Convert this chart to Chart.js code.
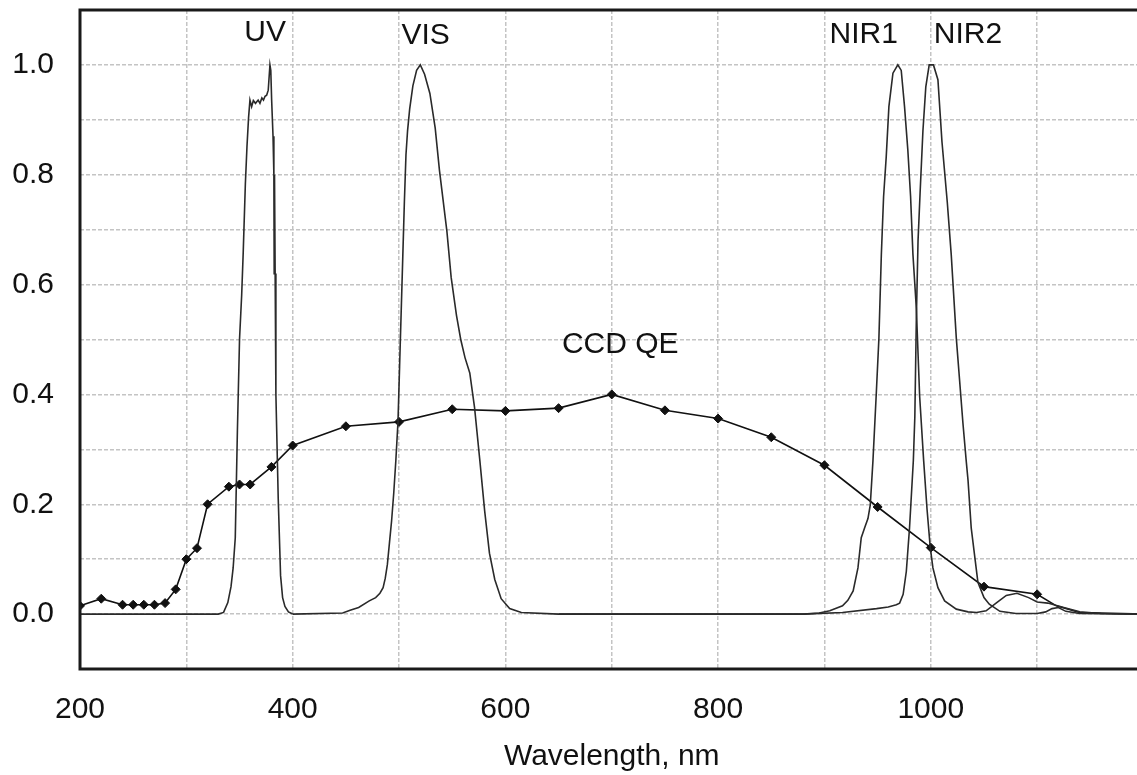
<!DOCTYPE html>
<html>
<head>
<meta charset="utf-8">
<script src="https://cdn.jsdelivr.net/npm/chart.js@4"></script>
<style>
  html, body { margin: 0; padding: 0; background: #fff; overflow: hidden; }
  #wrap { position: absolute; left: 0; top: 0; }
</style>
</head>
<body>
<div id="wrap"><canvas id="chart" width="1149" height="775"></canvas></div>
<script>
// CCD quantum efficiency (points with markers)
const qeWl = [200, 220, 240, 250, 260, 270, 280, 290, 300, 310, 320, 340, 350, 360, 380, 400, 450, 500, 550, 600,
              650, 700, 750, 800, 850, 900, 950, 1000, 1050, 1100];
const qeVal = [0.015, 0.028, 0.017, 0.017, 0.017, 0.017, 0.02, 0.045, 0.1, 0.12, 0.2, 0.232, 0.236, 0.236, 0.268, 0.307, 0.342, 0.35, 0.373, 0.37,
               0.375, 0.4, 0.371, 0.356, 0.322, 0.271, 0.195, 0.121, 0.05, 0.036];
// tail of the QE curve, no markers
const qeTailWl = [1118, 1140, 1200];
const qeTailVal = [0.015, 0.003, 0];

// filter transmission curves
const uvWl = [200, 330, 335, 339, 342, 344, 346, 348, 350, 352, 353.5, 355.5, 357, 358.5, 359.8, 361.4, 363, 365, 367.5, 369.2,
              371, 372.5, 374, 375.5, 377, 378.6, 379.4, 380.2, 381.5, 382.3, 382.6, 382.9, 383.5, 384.2, 386.4, 388.6, 390.5, 392.7, 396, 400];
const uvVal = [0, 0, 0.003, 0.021, 0.05, 0.084, 0.139, 0.334, 0.5, 0.58, 0.66, 0.784, 0.851, 0.904, 0.936, 0.924, 0.935, 0.93, 0.936, 0.93,
               0.94, 0.936, 0.943, 0.945, 0.954, 1.0, 0.99, 0.936, 0.87, 0.8, 0.62, 0.8, 0.62, 0.4, 0.21, 0.07, 0.03, 0.014, 0.004, 0];

const visWl = [400, 447, 454, 462, 472, 478, 482, 485, 487, 489, 491, 493, 495, 497, 499, 500.5, 502, 503.5, 505, 506.5,
               508, 510, 513, 516.5, 520, 524, 529, 534, 538, 545, 549, 554, 558, 562, 566.5, 571, 576, 580.5, 585, 590,
               596, 604, 615, 650, 700];
const visVal = [0, 0.002, 0.007, 0.012, 0.024, 0.03, 0.038, 0.048, 0.065, 0.09, 0.13, 0.17, 0.22, 0.28, 0.35, 0.45, 0.55, 0.65, 0.75, 0.836,
                0.88, 0.92, 0.962, 0.99, 1.0, 0.983, 0.948, 0.885, 0.808, 0.697, 0.613, 0.544, 0.5, 0.467, 0.439, 0.376, 0.279, 0.188, 0.111, 0.063,
                0.028, 0.01, 0.003, 0, 0];

const nir1Wl = [650, 880, 895, 905, 917, 922, 927, 931.5, 934.6, 937.8, 940.9, 943.1, 945.6, 948.8, 951.2, 953.5, 955.6, 958.1, 960.6, 964.4,
                969, 972.2, 975.3, 978.4, 981, 983.2, 986.4, 989.5, 993.3, 996.5, 999.5, 1002, 1006.7, 1013, 1024, 1035, 1043, 1052, 1062, 1071,
                1081, 1092, 1100, 1110, 1125, 1140, 1160, 1200];
const nir1Val = [0, 0, 0.002, 0.006, 0.015, 0.025, 0.042, 0.084, 0.139, 0.157, 0.174, 0.199, 0.279, 0.404, 0.502, 0.655, 0.76, 0.833, 0.924, 0.985,
                 1.0, 0.99, 0.924, 0.845, 0.76, 0.655, 0.557, 0.397, 0.279, 0.19, 0.121, 0.084, 0.048, 0.024, 0.009, 0.004, 0.003, 0.006, 0.021, 0.034,
                 0.038, 0.03, 0.022, 0.02, 0.012, 0.004, 0.001, 0];

const nir2Wl = [700, 880, 917, 949, 960, 967.6, 970.7, 974, 977, 980, 983.6, 985, 986.4, 988, 990, 992.6, 995.3, 998.5, 1002.5, 1006.7,
                1010.5, 1015.5, 1019.2, 1024, 1030.2, 1033.3, 1035, 1038, 1044.3, 1050, 1055, 1065, 1080, 1100, 1108, 1114, 1120, 1127, 1140, 1200];
const nir2Val = [0, 0, 0.003, 0.01, 0.013, 0.017, 0.02, 0.036, 0.078, 0.157, 0.28, 0.36, 0.537, 0.68, 0.77, 0.88, 0.96, 1.0, 1.0, 0.973,
                 0.86, 0.75, 0.655, 0.502, 0.348, 0.279, 0.244, 0.157, 0.058, 0.03, 0.018, 0.005, 0.001, 0.001, 0.004, 0.01, 0.012, 0.005, 0.001, 0];

// curve labels placed in data units
const labelText = ["UV", "VIS", "NIR1", "NIR2", "CCD QE"];
const labelWl = [374, 525, 937, 1035, 708];
const labelVal = [1.058, 1.053, 1.055, 1.055, 0.491];

const FONT = '"Liberation Sans", Arial, sans-serif';

function pts(xs, ys) {
    return xs.map((x, i) => ({ x: x, y: ys[i] }));
}

const filterStyle = {
    showLine: true,
    borderColor: "#2a2a2a",
    borderWidth: 1.6,
    pointRadius: 0,
    tension: 0,
    fill: false
};

const framePlugin = {
    id: "frame",
    afterDraw(chart) {
        const { ctx, chartArea: a, scales } = chart;
        ctx.save();
        // plot border
        ctx.strokeStyle = "#1a1a1a";
        ctx.lineWidth = 3;
        ctx.beginPath();
        ctx.moveTo(chart.width, a.top);
        ctx.lineTo(a.left, a.top);
        ctx.lineTo(a.left, a.bottom);
        ctx.lineTo(chart.width, a.bottom);
        ctx.stroke();
        // curve labels
        ctx.fillStyle = "#111";
        ctx.font = "30px " + FONT;
        ctx.textAlign = "center";
        ctx.textBaseline = "middle";
        labelText.forEach((t, i) => {
            ctx.fillText(t, scales.x.getPixelForValue(labelWl[i]), scales.y.getPixelForValue(labelVal[i]));
        });
        ctx.restore();
    }
};

const qePoints = pts(qeWl, qeVal).concat(pts(qeTailWl, qeTailVal));

new Chart(document.getElementById("chart"), {
    type: "scatter",
    data: {
        datasets: [
            Object.assign({ label: "UV", data: pts(uvWl, uvVal) }, filterStyle),
            Object.assign({ label: "VIS", data: pts(visWl, visVal) }, filterStyle),
            Object.assign({ label: "NIR1", data: pts(nir1Wl, nir1Val) }, filterStyle),
            Object.assign({ label: "NIR2", data: pts(nir2Wl, nir2Val) }, filterStyle),
            {
                label: "CCD QE",
                data: qePoints,
                showLine: true,
                borderColor: "#111",
                borderWidth: 1.6,
                tension: 0,
                pointStyle: "rectRot",
                pointRadius: ctx => (ctx.dataIndex < qeWl.length ? 4.5 : 0),
                pointBackgroundColor: "#111",
                pointBorderColor: "#111",
                pointBorderWidth: 1
            }
        ]
    },
    options: {
        responsive: false,
        devicePixelRatio: 1,
        animation: false,
        layout: { padding: { top: 10, left: 0, right: 0, bottom: 0 } },
        plugins: {
            legend: { display: false },
            tooltip: { enabled: false }
        },
        scales: {
            x: {
                type: "linear",
                min: 200,
                max: 1200,
                afterFit: s => { s.height = 106; s.paddingLeft = 0; s.paddingRight = 0; },
                ticks: {
                    stepSize: 100,
                    padding: 23,
                    color: "#111",
                    font: { family: FONT, size: 30 },
                    maxRotation: 0,
                    autoSkip: false,
                    callback: v => (v % 200 === 0 && v <= 1000 ? String(v) : "")
                },
                grid: { color: "#c4c4c4", lineWidth: 1.5, drawTicks: false },
                border: { display: false, dash: [4, 2] },
                title: {
                    display: true,
                    text: "Wavelength, nm",
                    color: "#111",
                    font: { family: FONT, size: 30 },
                    padding: { top: 0, bottom: 0 }
                }
            },
            y: {
                min: -0.1,
                max: 1.1,
                afterFit: s => { s.width = 80; s.paddingTop = 0; s.paddingBottom = 0; },
                ticks: {
                    stepSize: 0.1,
                    padding: 26,
                    color: "#111",
                    font: { family: FONT, size: 30 },
                    autoSkip: false,
                    callback: v => {
                        const k = Math.round(v * 10);
                        return (k >= 0 && k <= 10 && k % 2 === 0) ? (k / 10).toFixed(1) : "";
                    }
                },
                grid: { color: "#c4c4c4", lineWidth: 1.5, drawTicks: false },
                border: { display: false, dash: [4, 2] }
            }
        }
    },
    plugins: [framePlugin]
});
</script>
</body>
</html>
